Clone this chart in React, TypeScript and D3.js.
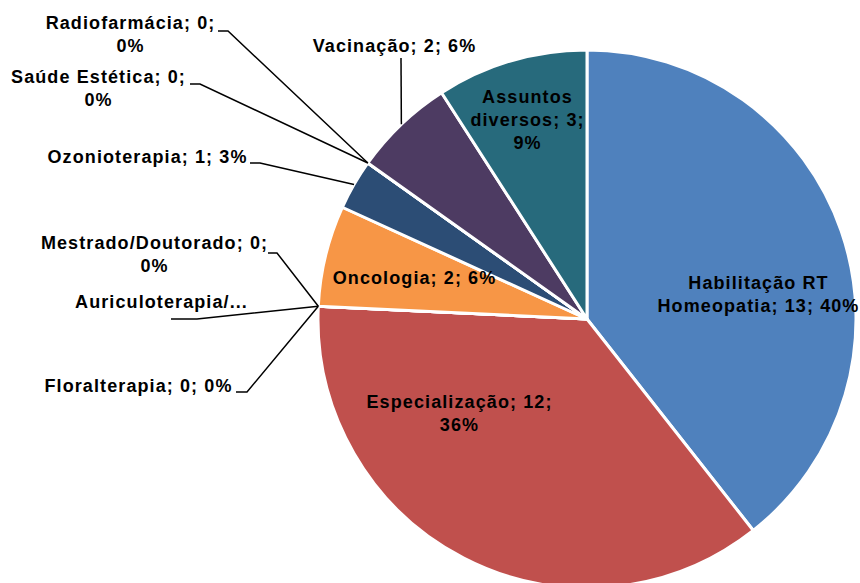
import React, { useEffect } from "react";
import * as d3 from "d3";

const categories = [
  "Habilitação RT Homeopatia",
  "Especialização",
  "Floralterapia",
  "Auriculoterapia/Acupuntura",
  "Mestrado/Doutorado",
  "Oncologia",
  "Ozonioterapia",
  "Saúde Estética",
  "Radiofarmácia",
  "Vacinação",
  "Assuntos diversos",
];
const values = [13, 12, 0, 0, 0, 2, 1, 0, 0, 2, 3];
const percentLabels = ["40%", "36%", "0%", "0%", "0%", "6%", "3%", "0%", "0%", "6%", "9%"];
const colors = ["#4F81BD", "#C0504D", "#9BBB59", "#8064A2", "#4BACC6", "#F79646", "#2C4D75", "#772C2A", "#5F7530", "#4D3B62", "#276A7C"];

// label lines (text) per category
const labelLines: string[][] = [
  ["Habilitação RT", "Homeopatia; 13; 40%"],
  ["Especialização; 12;", "36%"],
  ["Floralterapia; 0; 0%"],
  ["Auriculoterapia/..."],
  ["Mestrado/Doutorado; 0;", "0%"],
  ["Oncologia; 2; 6%"],
  ["Ozonioterapia; 1; 3%"],
  ["Saúde Estética; 0;", "0%"],
  ["Radiofarmácia; 0;", "0%"],
  ["Vacinação; 2; 6%"],
  ["Assuntos", "diversos; 3;", "9%"],
];

// layout: label center x, first-line center y, leader (start point, elbow) if outside
type Layout = { x: number; y: number; leader?: [number, number, number, number] };
const layout: Layout[] = [
  { x: 758, y: 283 },
  { x: 459, y: 402 },
  { x: 138, y: 386, leader: [236, 392, 247, 392] },
  { x: 161, y: 302, leader: [171, 319, 197, 319] },
  { x: 154, y: 243, leader: [268, 253, 277, 253] },
  { x: 414, y: 278 },
  { x: 147, y: 157, leader: [250, 163, 260, 163] },
  { x: 98, y: 77, leader: [190, 84, 200, 84] },
  { x: 130, y: 23, leader: [218, 31, 228, 31] },
  { x: 394, y: 46, leader: [401, 58, 401, 58] },
  { x: 527, y: 97 },
];

const W = 860;
const H = 583;
const cx = 587;
const cy = 319;
const R = 269;
const lineH = 23;

export default function App() {
  useEffect(() => {
    document.body.style.margin = "0";
  }, []);
  const pie = d3.pie<number>().sort(null).value((d) => d).startAngle(0).endAngle(2 * Math.PI);
  const arcs = pie(values);
  const arc = d3.arc<d3.PieArcDatum<number>>().innerRadius(0).outerRadius(R);

  return (
    <svg width={W} height={H} style={{ position: "absolute", left: 0, top: 0, background: "#fff" }}>
      <g transform={`translate(${cx},${cy})`}>
        {arcs.map((a, i) => (
          <path key={i} d={arc(a) || ""} fill={colors[i]} stroke="#fff" strokeWidth={3} strokeLinejoin="round" />
        ))}
      </g>
      {arcs.map((a, i) => {
        const L = layout[i];
        if (!L.leader) return null;
        const ang = (a.startAngle + a.endAngle) / 2;
        const ex = cx + R * Math.sin(ang);
        const ey = cy - R * Math.cos(ang);
        const [sx, sy, mx, my] = L.leader;
        return (
          <polyline key={"l" + i} points={`${sx},${sy} ${mx},${my} ${ex},${ey}`} fill="none" stroke="#000" strokeWidth={1.5} />
        );
      })}
      {labelLines.map((lines, i) => {
        const L = layout[i];
        return (
          <text
            key={"t" + i}
            textAnchor="middle"
            fontFamily="'Liberation Sans', Arial, sans-serif"
            fontWeight="bold"
            fontSize={18}
            letterSpacing={1.1}
            fill="#000"
          >
            {lines.map((s, j) => (
              <tspan key={j} x={L.x + 0.5} y={L.y + j * lineH} dy="0.35em">
                {s}
              </tspan>
            ))}
          </text>
        );
      })}
    </svg>
  );
}
